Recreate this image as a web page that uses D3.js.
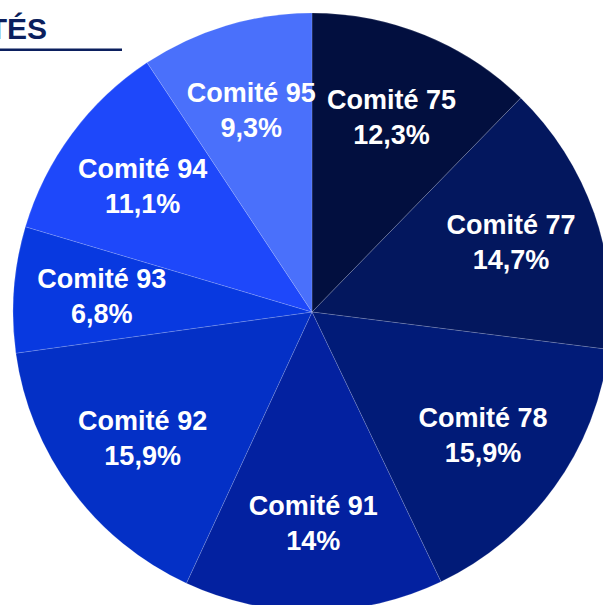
<!DOCTYPE html>
<html>
<head>
<meta charset="utf-8">
<script src="https://cdn.jsdelivr.net/npm/d3@7"></script>
<style>
  html, body { margin: 0; padding: 0; background: #fff; overflow: hidden; }
  svg { display: block; }
</style>
</head>
<body>
<svg id="chart" width="603" height="605"></svg>
<script>
const categories = ["Comité 75", "Comité 77", "Comité 78", "Comité 91", "Comité 92", "Comité 93", "Comité 94", "Comité 95"];
const values = [12.3, 14.7, 15.9, 14, 15.9, 6.8, 11.1, 9.3];
const valueLabels = ["12,3%", "14,7%", "15,9%", "14%", "15,9%", "6,8%", "11,1%", "9,3%"];
const colors = ["#020F3F", "#03175E", "#011B78", "#0321A0", "#0430C6", "#0839E0", "#1E48FA", "#4A70FB"];
const title = "COMITÉS";

const svg = d3.select("#chart");
const cx = 312, cy = 312, R = 299;

// Title (cropped at left edge, as in the reference)
svg.append("text")
  .attr("x", 47).attr("y", 39)
  .attr("text-anchor", "end")
  .attr("font-family", "Liberation Sans, Arial, sans-serif")
  .attr("font-weight", "bold")
  .attr("font-size", 30)
  .attr("fill", "#0B1F5E")
  .text(title);
svg.append("rect")
  .attr("x", 0).attr("y", 48.5).attr("width", 122).attr("height", 2.5)
  .attr("fill", "#0B1F5E");

const pie = d3.pie().sort(null).value(d => d.value);
const data = categories.map((c, i) => ({ cat: c, value: values[i], label: valueLabels[i], color: colors[i] }));
const arcs = pie(data);

const arc = d3.arc().innerRadius(0).outerRadius(R);
const labelArc = d3.arc().innerRadius(R * 0.705).outerRadius(R * 0.705);

const g = svg.append("g").attr("transform", `translate(${cx},${cy})`);

g.selectAll("path.slice")
  .data(arcs)
  .join("path")
  .attr("class", "slice")
  .attr("d", arc)
  .attr("fill", d => d.data.color)
  .attr("stroke", "rgba(255,255,255,0.25)")
  .attr("stroke-width", 0.6);

const lbl = g.selectAll("text.lbl")
  .data(arcs)
  .join("text")
  .attr("class", "lbl")
  .attr("transform", d => `translate(${labelArc.centroid(d)})`)
  .attr("text-anchor", "middle")
  .attr("font-family", "Liberation Sans, Arial, sans-serif")
  .attr("font-weight", "bold")
  .attr("font-size", 27)
  .attr("fill", "#ffffff");

lbl.append("tspan").attr("x", 0).attr("y", -8).text(d => d.data.cat);
lbl.append("tspan").attr("x", 0).attr("y", 27).text(d => d.data.label);
</script>
</body>
</html>
